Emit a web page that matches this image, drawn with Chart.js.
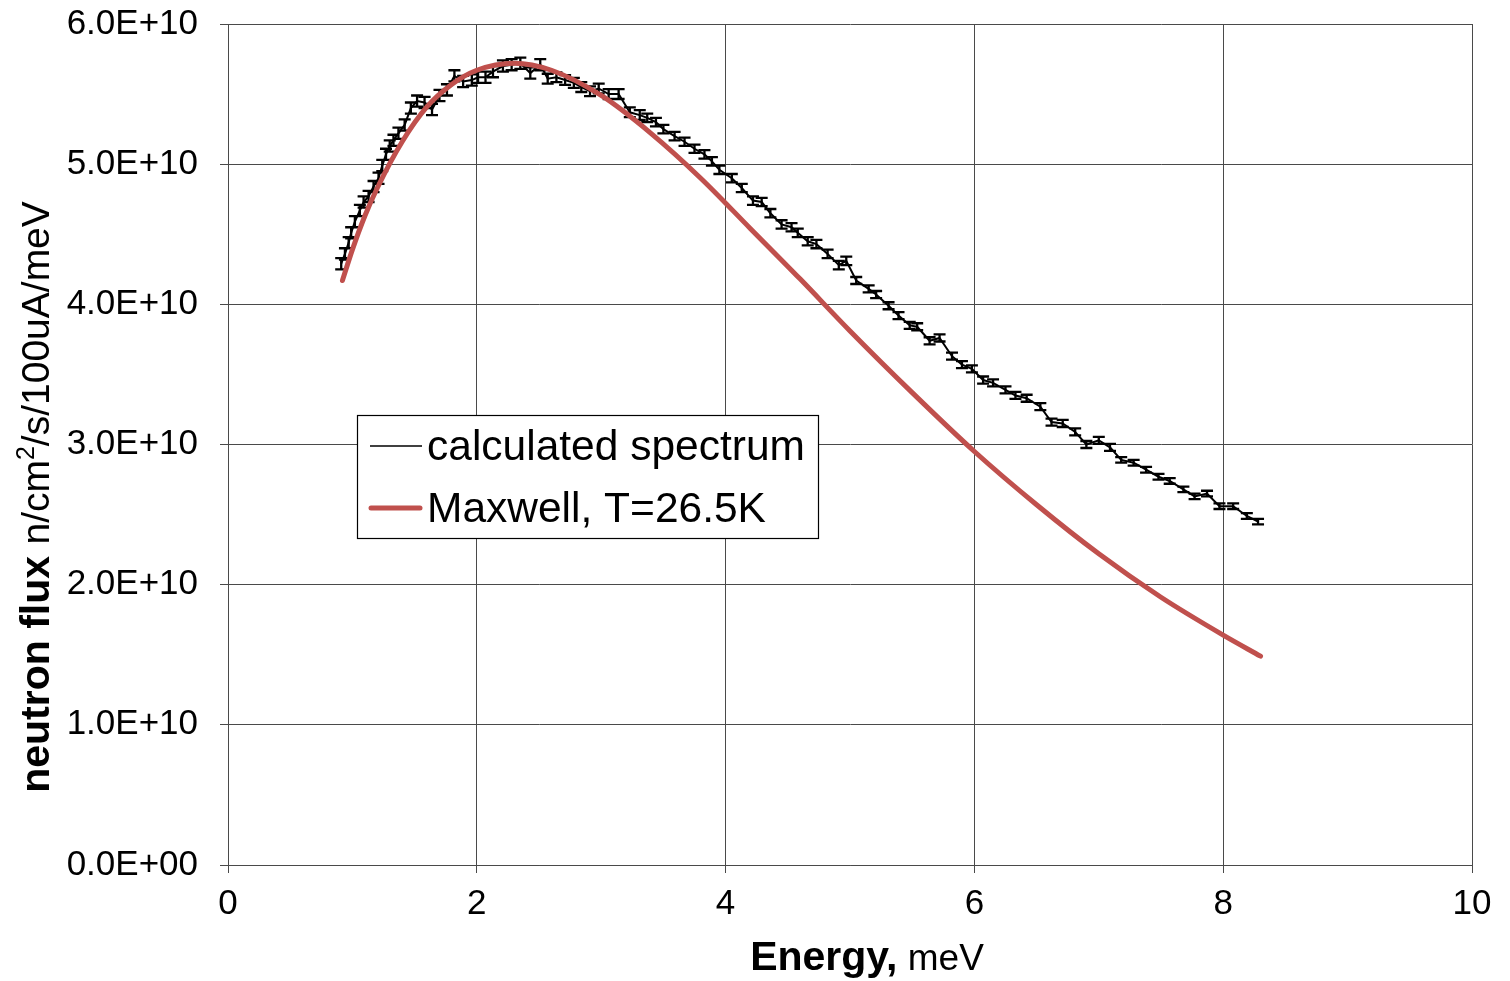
<!DOCTYPE html>
<html>
<head>
<meta charset="utf-8">
<script src="https://cdn.jsdelivr.net/npm/chart.js@4/dist/chart.umd.min.js"></script>
<style>
  html, body { margin: 0; padding: 0; background: #fff; }
  #chart { display: block; }
</style>
</head>
<body>
<canvas id="chart" width="1510" height="981"></canvas>
<script>
// Calculated neutron spectrum vs Maxwell fit
// flux values are in units of 1E+10 n/cm2/s/100uA/meV

const spectrumName = 'calculated spectrum'
const maxwellName = 'Maxwell, T=26.5K'

const energy = [
  0.91, 0.94, 0.97, 0.99, 1.02, 1.06, 1.09, 1.13, 1.17, 1.21,
  1.24, 1.27, 1.30, 1.33, 1.37, 1.42, 1.47, 1.52, 1.58, 1.64,
  1.70, 1.76, 1.82, 1.89, 1.96, 2.01, 2.07, 2.13, 2.21, 2.28,
  2.35, 2.43, 2.51, 2.57, 2.64, 2.71, 2.78, 2.84, 2.91, 2.98,
  3.06, 3.14, 3.23, 3.31, 3.37, 3.44, 3.50, 3.59, 3.67, 3.75,
  3.83, 3.89, 3.95, 4.05, 4.13, 4.22, 4.29, 4.36, 4.45, 4.53,
  4.58, 4.66, 4.73, 4.82, 4.91, 4.97, 5.05, 5.15, 5.21, 5.31,
  5.39, 5.48, 5.54, 5.64, 5.72, 5.82, 5.90, 5.98, 6.07, 6.15,
  6.25, 6.33, 6.42, 6.53, 6.62, 6.71, 6.81, 6.90, 7.00, 7.09,
  7.18, 7.28, 7.38, 7.48, 7.57, 7.68, 7.77, 7.87, 7.97, 8.08, 8.19, 8.28
]

const flux = [
  4.29, 4.36, 4.44, 4.51, 4.59, 4.67, 4.73, 4.77, 4.84, 4.90,
  4.99, 5.07, 5.13, 5.17, 5.22, 5.28, 5.40, 5.45, 5.44, 5.39,
  5.49, 5.53, 5.63, 5.59, 5.60, 5.62, 5.62, 5.66, 5.70, 5.71,
  5.72, 5.65, 5.71, 5.61, 5.62, 5.60, 5.58, 5.55, 5.52, 5.54,
  5.50, 5.50, 5.37, 5.35, 5.33, 5.30, 5.25, 5.20, 5.16, 5.11,
  5.07, 5.02, 4.96, 4.90, 4.83, 4.74, 4.73, 4.65, 4.57, 4.55,
  4.51, 4.45, 4.43, 4.36, 4.28, 4.31, 4.17, 4.11, 4.07, 3.99,
  3.92, 3.85, 3.84, 3.74, 3.76, 3.63, 3.57, 3.54, 3.46, 3.44,
  3.39, 3.35, 3.33, 3.27, 3.16, 3.15, 3.09, 3.00, 3.03, 2.98,
  2.89, 2.87, 2.82, 2.77, 2.74, 2.68, 2.63, 2.65, 2.56, 2.56, 2.49, 2.45
]

const fluxErr = [
  0.04, 0.04, 0.04, 0.04, 0.04, 0.04, 0.04, 0.04, 0.04, 0.04,
  0.04, 0.04, 0.04, 0.04, 0.04, 0.04, 0.04, 0.04, 0.04, 0.04,
  0.04, 0.04, 0.04, 0.04, 0.04, 0.04, 0.04, 0.04, 0.04, 0.04,
  0.04, 0.04, 0.04, 0.035, 0.035, 0.035, 0.035, 0.035, 0.035, 0.035,
  0.035, 0.035, 0.035, 0.035, 0.03, 0.03, 0.03, 0.03, 0.03, 0.03,
  0.03, 0.03, 0.03, 0.03, 0.03, 0.03, 0.03, 0.03, 0.03, 0.03,
  0.03, 0.03, 0.03, 0.03, 0.03, 0.03, 0.025, 0.025, 0.025, 0.025,
  0.025, 0.025, 0.025, 0.025, 0.025, 0.025, 0.025, 0.025, 0.025, 0.025,
  0.025, 0.025, 0.025, 0.025, 0.025, 0.025, 0.025, 0.025, 0.025, 0.025,
  0.02, 0.02, 0.02, 0.02, 0.02, 0.02, 0.02, 0.02, 0.02, 0.02, 0.02, 0.02
]

const maxwellEnergy = [0.92, 1.0, 1.1, 1.2, 1.4, 1.6, 1.8, 2.0, 2.3, 2.6, 3.0, 3.4, 3.8, 4.2, 4.6, 5.0, 5.5, 6.0, 6.5, 7.0, 7.5, 8.0, 8.3]
const maxwellFlux = [4.17, 4.39, 4.63, 4.83, 5.16, 5.41, 5.57, 5.67, 5.72, 5.67, 5.49, 5.22, 4.90, 4.54, 4.18, 3.81, 3.37, 2.95, 2.57, 2.22, 1.91, 1.64, 1.49]

const xTicks = [0, 2, 4, 6, 8, 10]
const yTicks = [0, 1, 2, 3, 4, 5, 6]

const FONT = '"Liberation Sans", Arial, sans-serif'
const GRID = '#4a4a4a'
const RED = '#c0504d'

function yLabel(v) {
  return v === 0 ? '0.0E+00' : v.toFixed(1) + 'E+10'
}

// error bars on the calculated spectrum, drawn right after that dataset
const errorBars = {
  id: 'errorBars',
  afterDatasetDraw(chart, args) {
    if (args.index !== 0) return
    const { ctx, scales: { x, y } } = chart
    const cap = 6
    ctx.save()
    ctx.strokeStyle = '#000'
    ctx.lineWidth = 2.3
    ctx.beginPath()
    energy.forEach((e, i) => {
      const px = x.getPixelForValue(e)
      const top = y.getPixelForValue(flux[i] + fluxErr[i])
      const bot = y.getPixelForValue(flux[i] - fluxErr[i])
      ctx.moveTo(px, top); ctx.lineTo(px, bot)
      ctx.moveTo(px - cap, top); ctx.lineTo(px + cap, top)
      ctx.moveTo(px - cap, bot); ctx.lineTo(px + cap, bot)
    })
    ctx.stroke()
    ctx.restore()
  }
}

// axis titles (mixed bold / normal) and the boxed legend
const decorations = {
  id: 'decorations',
  afterDraw(chart) {
    const { ctx, chartArea: a } = chart
    ctx.save()
    ctx.fillStyle = '#000'
    ctx.textBaseline = 'alphabetic'
    ctx.textAlign = 'left'

    // x title
    const boldX = 'Energy,'
    const normX = ' meV'
    ctx.font = 'bold 41px ' + FONT
    const wb = ctx.measureText(boldX).width
    ctx.font = '37px ' + FONT
    const wn = ctx.measureText(normX).width
    let sx = (a.left + a.right) / 2 + 17 - (wb + wn) / 2
    ctx.font = 'bold 41px ' + FONT
    ctx.fillText(boldX, sx, 970)
    ctx.font = '37px ' + FONT
    ctx.fillText(normX, sx + wb, 970)

    // y title, rotated
    const parts = [
      { t: 'neutron flux ', f: 'bold 41px ' + FONT, dy: 0 },
      { t: 'n/cm', f: '39px ' + FONT, dy: 0 },
      { t: '2', f: '25px ' + FONT, dy: -15 },
      { t: '/s/100uA/meV', f: '39px ' + FONT, dy: 0 }
    ]
    let total = 0
    parts.forEach(p => { ctx.font = p.f; p.w = ctx.measureText(p.t).width; total += p.w })
    ctx.translate(49, 497)
    ctx.rotate(-Math.PI / 2)
    let cx = -total / 2
    parts.forEach(p => { ctx.font = p.f; ctx.fillText(p.t, cx, p.dy); cx += p.w })
    ctx.setTransform(1, 0, 0, 1, 0, 0)

    // legend
    const lx = a.left + 129, ly = a.top + 391
    ctx.fillStyle = '#fff'
    ctx.fillRect(lx, ly, 461, 123)
    ctx.strokeStyle = '#000'
    ctx.lineWidth = 1.2
    ctx.strokeRect(lx + 0.5, ly + 0.5, 461, 123)
    const ds = chart.data.datasets
    ctx.font = '42.5px ' + FONT
    ctx.fillStyle = '#000'

    ctx.lineCap = 'butt'
    ctx.strokeStyle = ds[0].borderColor
    ctx.lineWidth = 1.5
    ctx.beginPath(); ctx.moveTo(lx + 13, ly + 31); ctx.lineTo(lx + 65, ly + 31); ctx.stroke()
    ctx.fillText(ds[0].label, lx + 70, ly + 45)

    ctx.lineCap = 'round'
    ctx.strokeStyle = ds[1].borderColor
    ctx.lineWidth = 5
    ctx.beginPath(); ctx.moveTo(lx + 14, ly + 93); ctx.lineTo(lx + 63, ly + 93); ctx.stroke()
    ctx.fillText(ds[1].label, lx + 70, ly + 107)
    ctx.restore()
  }
}

new Chart(document.getElementById('chart'), {
  type: 'scatter',
  data: {
    datasets: [
      {
        label: spectrumName,
        data: energy.map((e, i) => ({ x: e, y: flux[i] })),
        showLine: true,
        borderColor: '#000',
        borderWidth: 2,
        pointRadius: 0,
        tension: 0,
        order: 2
      },
      {
        label: maxwellName,
        data: maxwellEnergy.map((e, i) => ({ x: e, y: maxwellFlux[i] })),
        showLine: true,
        borderColor: RED,
        borderWidth: 5,
        borderCapStyle: 'round',
        pointRadius: 0,
        cubicInterpolationMode: 'monotone',
        order: 1
      }
    ]
  },
  options: {
    responsive: false,
    animation: false,
    devicePixelRatio: 1,
    layout: { padding: { top: 24, right: 38, left: 0, bottom: 0 } },
    plugins: {
      legend: { display: false },
      tooltip: { enabled: false }
    },
    scales: {
      x: {
        type: 'linear',
        min: 0,
        max: 10,
        afterBuildTicks: s => { s.ticks = xTicks.map(v => ({ value: v })) },
        afterFit: s => { s.height = 116; s.paddingLeft = 0; s.paddingRight = 0 },
        ticks: {
          color: '#000',
          font: { family: FONT, size: 35 },
          padding: 10,
          maxRotation: 0
        },
        grid: { color: GRID, lineWidth: 1, tickLength: 8, tickColor: GRID },
        border: { color: GRID, width: 1 }
      },
      y: {
        type: 'linear',
        min: 0,
        max: 6,
        afterBuildTicks: s => { s.ticks = yTicks.map(v => ({ value: v })) },
        afterFit: s => { s.width = 228; s.paddingTop = 0; s.paddingBottom = 0 },
        ticks: {
          color: '#000',
          font: { family: FONT, size: 35 },
          padding: 22,
          callback: v => yLabel(v)
        },
        grid: { color: GRID, lineWidth: 1, tickLength: 8, tickColor: GRID },
        border: { color: GRID, width: 1 }
      }
    }
  },
  plugins: [errorBars, decorations]
})
</script>
</body>
</html>
